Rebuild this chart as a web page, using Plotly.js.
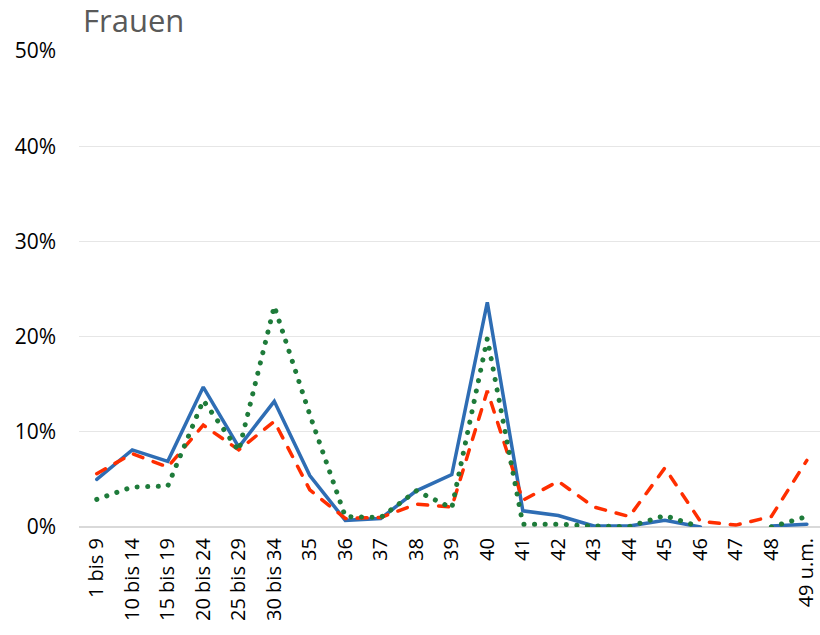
<!DOCTYPE html>
<html>
<head>
<meta charset="utf-8">
<script src="https://cdn.plot.ly/plotly-3.0.1.min.js"></script>
<style>
  html, body { margin: 0; padding: 0; background: #fff; }
  #plotArea { width: 820px; height: 635px; }
  .scatterlayer .trace .js-line { stroke-linecap: round !important; }
</style>
</head>
<body>
<div id="plotArea"></div>
<script>
var categories = ["1 bis 9", "10 bis 14", "15 bis 19", "20 bis 24", "25 bis 29", "30 bis 34",
  "35", "36", "37", "38", "39", "40", "41", "42", "43", "44", "45", "46", "47", "48", "49 u.m."];

// shares in percent
var blueValues = [5.0, 8.1, 6.9, 14.7, 8.4, 13.2, 5.4, 0.7, 0.9, 3.8, 5.5, 23.6,
  1.7, 1.2, 0.1, 0.1, 0.7, 0.0, null, 0.1, 0.3];
var redValues = [5.6, 7.7, 6.3, 10.7, 8.1, 11.1, 3.9, 0.9, 1.0, 2.4, 2.1, 14.3,
  2.8, 4.8, 2.1, 1.1, 6.2, 0.6, 0.2, 1.1, 7.0];
var greenValues = [2.9, 4.2, 4.3, 13.3, 8.0, 23.2, 11.8, 1.1, 1.0, 3.8, 2.0, 19.8,
  0.3, 0.3, 0.1, 0.05, 1.2, 0.0, null, 0.0, 1.1];

function toShare(arr) {
  return arr.map(function (v) {
    return v === null ? null : v / 100;
  });
}

var trace1 = {
  x: categories,
  y: toShare(blueValues),
  type: "scatter",
  mode: "lines",
  connectgaps: false,
  line: { color: "#2E6DB4", width: 3.5 },
  hoverinfo: "skip"
};

var trace2 = {
  x: categories,
  y: toShare(redValues),
  type: "scatter",
  mode: "lines",
  line: { color: "#FF2E00", width: 3.5, dash: "10px,11px" },
  hoverinfo: "skip"
};

var trace3 = {
  x: categories,
  y: toShare(greenValues),
  type: "scatter",
  mode: "lines",
  connectgaps: false,
  line: { color: "#1E7B3A", width: 5, dash: "0.1px,10.5px" },
  hoverinfo: "skip"
};

var layout = {
  width: 820,
  height: 635,
  margin: { l: 79, r: 0, t: 51, b: 108 },
  paper_bgcolor: "#fff",
  plot_bgcolor: "#fff",
  showlegend: false,
  font: { family: "'Open Sans', sans-serif", size: 20, color: "#000" },
  title: {
    text: "Frauen",
    font: { family: "'Open Sans', sans-serif", size: 31, color: "#595959" },
    xref: "container",
    yref: "container",
    x: 83 / 820,
    xanchor: "left",
    y: 1 - 21 / 635,
    yanchor: "middle"
  },
  xaxis: {
    type: "category",
    range: [-0.5, 20.37],
    tickangle: -90,
    showgrid: false,
    showline: false,
    zeroline: false,
    ticks: "",
    ticklabelstandoff: 6,
    fixedrange: true
  },
  yaxis: {
    range: [0, 0.5],
    dtick: 0.1,
    tickformat: ".0%",
    tickfont: { size: 21 },
    gridcolor: "#e6e6e6",
    gridwidth: 1,
    zeroline: true,
    zerolinecolor: "#d9d9d9",
    zerolinewidth: 1.5,
    showline: false,
    ticks: "",
    ticklabelstandoff: 22,
    fixedrange: true
  }
};

Plotly.newPlot("plotArea", [trace1, trace2, trace3], layout, { staticPlot: true });
</script>
</body>
</html>
